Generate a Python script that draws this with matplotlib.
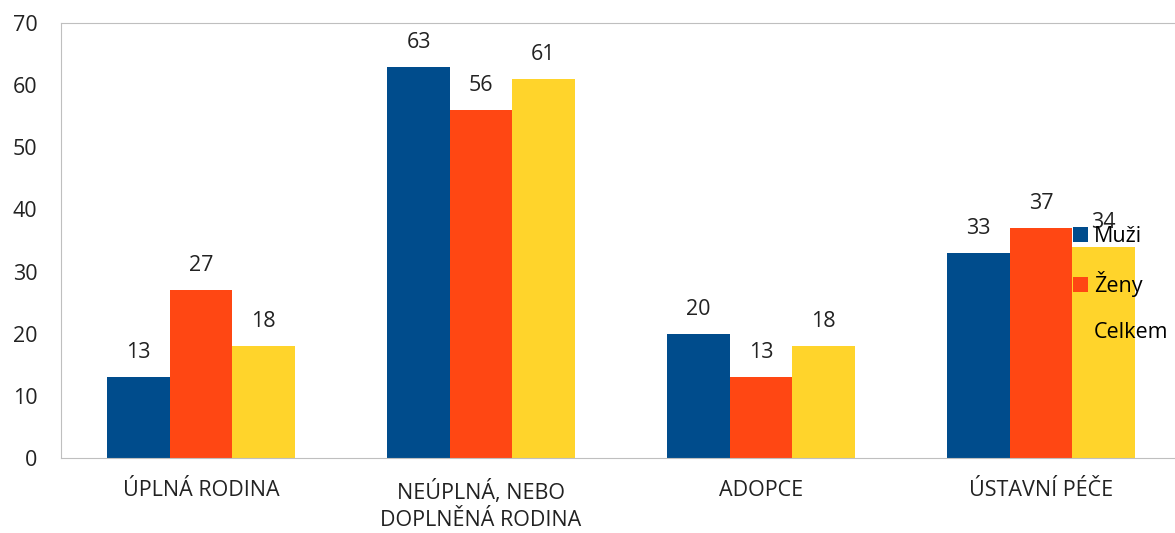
import numpy as np
import matplotlib.pyplot as plt
from matplotlib.patches import Patch

plt.rcParams['font.family'] = ['Open Sans', 'DejaVu Sans']

categories = ['ÚPLNÁ RODINA', 'NEÚPLNÁ, NEBO\nDOPLNĚNÁ RODINA', 'ADOPCE', 'ÚSTAVNÍ PÉČE']
series_names = ['Muži', 'Ženy', 'Celkem']
muzi = [13, 63, 20, 33]
zeny = [27, 56, 13, 37]
celkem = [18, 61, 18, 34]
colors = ['#004C8C', '#FF4713', '#FFD42B']

fig = plt.figure(figsize=(11.75, 5.33), dpi=100)
ax = fig.add_axes([61 / 1175, 1 - 458 / 533, 1120 / 1175, (458 - 23) / 533])

x = np.arange(len(categories))
w = 0.223
for i, (vals, c) in enumerate(zip([muzi, zeny, celkem], colors)):
    bars = ax.bar(x + (i - 1) * w, vals, w, color=c, zorder=2)
    for b, v in zip(bars, vals):
        ax.annotate(str(v), (b.get_x() + b.get_width() / 2, v),
                    xytext=(0, 10), textcoords='offset points',
                    ha='center', va='bottom', fontsize=15.5, color='#222222')

ax.set_xlim(-0.5, len(categories) - 0.5)
ax.set_ylim(0, 70)
ax.set_yticks(range(0, 71, 10))
ax.set_xticks(x)
ax.set_xticklabels(categories, fontsize=15.5, linespacing=1.35)
ax.tick_params(axis='both', length=0, labelsize=15.5, colors='#222222')
ax.tick_params(axis='x', pad=16)
ax.tick_params(axis='y', pad=17)
for s in ax.spines.values():
    s.set_color('#BFBFBF')

handles = [Patch(facecolor=c) for c in colors]
fig.legend(handles, series_names, loc='upper left',
           bbox_to_anchor=(1064 / 1175, 1 - 217 / 533), frameon=False,
           fontsize=15.5, handlelength=0.7, handleheight=0.7,
           handletextpad=0.3, labelspacing=1.15, borderaxespad=0)

fig.savefig('out.png', dpi=100)
